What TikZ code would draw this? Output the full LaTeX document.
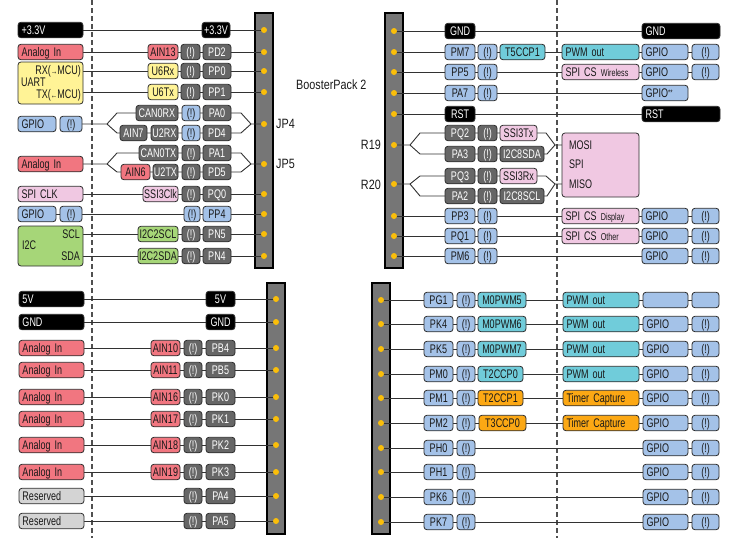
\documentclass[tikz,border=0pt]{standalone}
\usepackage{fontspec}
\setmainfont{Liberation Sans}[FakeStretch=0.72]
\newfontfamily\labfont{Liberation Sans}[FakeStretch=0.8]
\usetikzlibrary{backgrounds}
\definecolor{cEdge}{RGB}{45,45,45}
\definecolor{cTxt}{RGB}{25,25,25}
\definecolor{cDrk}{RGB}{102,102,102}
\definecolor{cBlu}{RGB}{164,194,232}
\definecolor{cAna}{RGB}{241,118,128}
\definecolor{cSpi}{RGB}{240,200,226}
\definecolor{cYel}{RGB}{255,243,150}
\definecolor{cGrn}{RGB}{166,214,120}
\definecolor{cCyn}{RGB}{112,204,218}
\definecolor{cOrg}{RGB}{252,168,20}
\definecolor{cLgr}{RGB}{212,212,212}
\definecolor{cHdr}{RGB}{118,118,118}
\definecolor{cDot}{RGB}{250,190,10}
\definecolor{cLine}{RGB}{50,50,50}
\definecolor{cDash}{RGB}{80,80,80}
\tikzset{
  pbox/.style={draw=cEdge, line width=0.8pt, rounded corners=3pt, minimum height=15.5pt,
    inner sep=0pt, text height=8.8pt, text depth=0pt, text=cTxt, font=\fontsize{12.5}{13}\selectfont},
  blk/.style={pbox, fill=black, text=white},
  drk/.style={pbox, fill=cDrk, text=white},
  blu/.style={pbox, fill=cBlu},
  ana/.style={pbox, fill=cAna},
  spi/.style={pbox, fill=cSpi},
  yel/.style={pbox, fill=cYel},
  grn/.style={pbox, fill=cGrn},
  cyn/.style={pbox, fill=cCyn},
  org/.style={pbox, fill=cOrg},
  lgr/.style={pbox, fill=cLgr},
  txt/.style={inner sep=0pt, text height=8.8pt, text depth=0pt, text=cTxt, font=\fontsize{12.5}{13}\selectfont},
  lab/.style={inner sep=0pt, text height=9.7pt, text depth=0pt, text=cTxt, font=\labfont\fontsize{13.5}{15}\selectfont},
  conn/.style={draw=cLine, line width=0.9pt},
  pindot/.style={circle, fill=cDot, minimum size=6pt, inner sep=0pt},
  hdr/.style={fill=cHdr, draw=black, line width=2pt, inner sep=0pt},
  sep/.style={draw=cDash, line width=1.4pt, dash pattern=on 5pt off 3pt},
}
\newcommand\bxc[6]{\pgfmathsetmacro\myBW{(#4)-(#3)}\pgfmathsetmacro\myCX{((#3)+(#4))/2}%
  \node[#2, minimum width=\myBW pt] (#1) at (\myCX,#5) {#6};}
\newcommand\bxl[6]{\pgfmathsetmacro\myBW{(#4)-(#3)}\pgfmathsetmacro\myTW{(#4)-(#3)-7}\pgfmathsetmacro\myCX{((#3)+(#4))/2}%
  \node[#2, minimum width=\myBW pt, text width=\myTW pt, align=left, inner xsep=3.5pt] (#1) at (\myCX,#5) {#6};}
\newcommand\sm[1]{{\fontsize{10}{10}\selectfont #1}}
\begin{document}
\begin{tikzpicture}[x=1pt,y=-1pt]
\useasboundingbox (0,0) rectangle (729,538);
% separators and headers
\coordinate (dA1) at (92,0); \coordinate (dA2) at (92,538);
\coordinate (dB1) at (557,0); \coordinate (dB2) at (557,538);
\begin{pgfonlayer}{background}
\draw[sep] (dA1) -- (dA2);
\draw[sep] (dB1) -- (dB2);
\node[hdr, minimum width=18pt, minimum height=255pt] (hTL) at (264,140.5) {};
\node[hdr, minimum width=18pt, minimum height=255pt] (hTR) at (394,140.5) {};
\node[hdr, minimum width=18pt, minimum height=251pt] (hBL) at (276,408.5) {};
\node[hdr, minimum width=18pt, minimum height=251pt] (hBR) at (381,408.5) {};
\end{pgfonlayer}
% pins
\foreach \yy [count=\k] in {30,52,71,92,124,164,194,214,234,256} \node[pindot] (tlp\k) at (264,\yy) {};
\foreach \yy [count=\k] in {31,52,72,93,114,145,184,216,236,256} \node[pindot] (trp\k) at (394,\yy) {};
\foreach \yy [count=\k] in {299,322,348,370,397,419,445,472,496,521} \node[pindot] (blp\k) at (276,\yy) {};
\foreach \yy [count=\k] in {300,324,349,374,398,423,448,472,497,522} \node[pindot] (brp\k) at (381,\yy) {};
% labels
\node[lab, anchor=west] (jp4) at (276,124) {JP4};
\node[lab, anchor=west] (jp5) at (276,164) {JP5};
\node[lab, anchor=west] (bp2) at (296,85) {BoosterPack 2};
\node[lab, anchor=east] (r19) at (381,145) {R19};
\node[lab, anchor=east] (r20) at (381,185) {R20};
% ---------------- top left
\bxl{tlL1}{blk}{18}{83}{30}{+3.3V}
\bxc{tlR1}{blk}{202}{230}{30}{+3.3V}
\bxl{tlL2}{ana}{18}{83}{52}{Analog In}
\bxc{tlA2}{ana}{148}{178}{52}{AIN13}
\bxc{tlX2}{drk}{181}{200}{52}{(!)}
\bxc{tlP2}{drk}{203}{231}{52}{PD2}
\node[yel, minimum width=65pt, minimum height=42pt] (uart) at (50.5,83) {};
\node[txt, anchor=east] (uRX) at (81,70) {RX({\fontsize{9}{9}\selectfont →}MCU)};
\node[txt, anchor=west] (uNm) at (21,82) {UART};
\node[txt, anchor=east] (uTX) at (81,94) {TX({\fontsize{9}{9}\selectfont ←}MCU)};
\bxc{tlA3}{yel}{148}{178}{71}{U6Rx}
\bxc{tlX3}{drk}{181}{200}{71}{(!)}
\bxc{tlP3}{drk}{203}{231}{71}{PP0}
\bxc{tlA4}{yel}{148}{178}{92}{U6Tx}
\bxc{tlX4}{drk}{181}{200}{92}{(!)}
\bxc{tlP4}{drk}{203}{231}{92}{PP1}
\bxl{tlL5}{blu}{18}{56}{124}{GPIO}
\bxc{tlM5}{blu}{60}{82}{124}{(!)}
\bxc{tlA5a}{drk}{136}{178}{113}{CAN0RX}
\bxc{tlX5a}{blu}{182}{200}{113}{(!)}
\bxc{tlP5a}{drk}{203}{231}{113}{PA0}
\bxc{tlB5b}{drk}{120}{147}{133}{AIN7}
\bxc{tlA5b}{drk}{151}{178}{133}{U2RX}
\bxc{tlX5b}{blu}{182}{200}{133}{(!)}
\bxc{tlP5b}{drk}{203}{231}{133}{PD4}
\bxl{tlL6}{ana}{18}{83}{164}{Analog In}
\bxc{tlA6a}{drk}{139}{178}{153}{CAN0TX}
\bxc{tlX6a}{drk}{182}{200}{153}{(!)}
\bxc{tlP6a}{drk}{203}{231}{153}{PA1}
\bxc{tlB6b}{ana}{121}{150}{172}{AIN6}
\bxc{tlA6b}{drk}{153}{178}{172}{U2TX}
\bxc{tlX6b}{drk}{182}{200}{172}{(!)}
\bxc{tlP6b}{drk}{203}{231}{172}{PD5}
\bxl{tlL7}{spi}{18}{83}{194}{SPI CLK}
\bxc{tlA7}{spi}{143}{178}{194}{SSI3Clk}
\bxc{tlX7}{drk}{182}{200}{194}{(!)}
\bxc{tlP7}{drk}{203}{231}{194}{PQ0}
\bxl{tlL8}{blu}{18}{56}{214}{GPIO}
\bxc{tlM8}{blu}{60}{82}{214}{(!)}
\bxc{tlX8}{blu}{184}{200}{214}{(!)}
\bxc{tlP8}{blu}{203}{231}{214}{PP4}
\node[grn, minimum width=65pt, minimum height=40pt] (i2c) at (50.5,246) {};
\node[txt, anchor=east] (iSCL) at (80,234) {SCL};
\node[txt, anchor=west] (iNm) at (22,245) {I2C};
\node[txt, anchor=east] (iSDA) at (80,256) {SDA};
\bxc{tlA9}{grn}{138}{178}{234}{I2C2SCL}
\bxc{tlX9}{drk}{182}{200}{234}{(!)}
\bxc{tlP9}{drk}{203}{231}{234}{PN5}
\bxc{tlA10}{grn}{138}{178}{256}{I2C2SDA}
\bxc{tlX10}{drk}{182}{200}{256}{(!)}
\bxc{tlP10}{drk}{203}{231}{256}{PN4}
% ---------------- top right
\bxc{trP1}{blk}{445}{475}{31}{GND}
\bxl{trR1}{blk}{642}{720}{31}{GND}
\bxc{trP2}{blu}{445}{475}{52}{PM7}
\bxc{trX2}{blu}{478}{497}{52}{(!)}
\bxc{trA2}{cyn}{500}{545}{52}{T5CCP1}
\bxl{trF2}{cyn}{562}{639}{52}{PWM out}
\bxl{trG2}{blu}{642}{688}{52}{GPIO}
\bxc{trY2}{blu}{692}{719}{52}{(!)}
\bxc{trP3}{blu}{445}{475}{72}{PP5}
\bxc{trX3}{blu}{478}{497}{72}{(!)}
\bxl{trF3}{spi}{562}{639}{72}{SPI CS \sm{Wireless}}
\bxl{trG3}{blu}{642}{688}{72}{GPIO}
\bxc{trY3}{blu}{692}{719}{72}{(!)}
\bxc{trP4}{blu}{445}{475}{93}{PA7}
\bxc{trX4}{blu}{478}{497}{93}{(!)}
\bxl{trG4}{blu}{642}{688}{93}{GPIO\raisebox{2pt}{\fontsize{8}{8}\selectfont **}}
\bxc{trP5}{blk}{445}{475}{114}{RST}
\bxl{trR5}{blk}{642}{720}{114}{RST}
\bxc{trP6a}{drk}{445}{475}{133}{PQ2}
\bxc{trX6a}{drk}{478}{497}{133}{(!)}
\bxc{trA6a}{spi}{500}{537}{133}{SSI3Tx}
\bxc{trP6b}{drk}{445}{475}{154}{PA3}
\bxc{trX6b}{drk}{478}{497}{154}{(!)}
\bxc{trA6b}{drk}{500}{544}{154}{I2C8SDA}
\bxc{trP7a}{drk}{445}{475}{176}{PQ3}
\bxc{trX7a}{drk}{478}{497}{176}{(!)}
\bxc{trA7a}{spi}{500}{537}{176}{SSI3Rx}
\bxc{trP7b}{drk}{445}{475}{196}{PA2}
\bxc{trX7b}{drk}{478}{497}{196}{(!)}
\bxc{trA7b}{drk}{500}{544}{196}{I2C8SCL}
\node[spi, minimum width=77pt, minimum height=64pt] (spibox) at (600.5,165) {};
\node[txt, anchor=west] (sMOSI) at (569,145) {MOSI};
\node[txt, anchor=west] (sSPI) at (569,164) {SPI};
\node[txt, anchor=west] (sMISO) at (569,184) {MISO};
\bxc{trP8}{blu}{445}{475}{216}{PP3}
\bxc{trX8}{blu}{478}{497}{216}{(!)}
\bxl{trF8}{spi}{562}{639}{216}{SPI CS \sm{Display}}
\bxl{trG8}{blu}{642}{688}{216}{GPIO}
\bxc{trY8}{blu}{692}{719}{216}{(!)}
\bxc{trP9}{blu}{445}{475}{236}{PQ1}
\bxc{trX9}{blu}{478}{497}{236}{(!)}
\bxl{trF9}{spi}{562}{639}{236}{SPI CS \sm{Other}}
\bxl{trG9}{blu}{642}{688}{236}{GPIO}
\bxc{trY9}{blu}{692}{719}{236}{(!)}
\bxc{trP10}{blu}{445}{475}{256}{PM6}
\bxc{trX10}{blu}{478}{497}{256}{(!)}
\bxl{trG10}{blu}{642}{688}{256}{GPIO}
\bxc{trY10}{blu}{692}{719}{256}{(!)}
% ---------------- bottom left
\bxl{blL1}{blk}{19}{84}{299}{5V}
\bxc{blR1}{blk}{206}{235}{299}{5V}
\bxl{blL2}{blk}{19}{84}{322}{GND}
\bxc{blR2}{blk}{206}{235}{322}{GND}
\foreach \yy/\ai/\pp [count=\k from 3] in {348/10/PB4,370/11/PB5,397/16/PK0,419/17/PK1,445/18/PK2,472/19/PK3}{
  \bxl{blL\k}{ana}{19}{84}{\yy}{Analog In}
  \bxc{blA\k}{ana}{151}{180}{\yy}{AIN\ai}
  \bxc{blX\k}{drk}{184}{202}{\yy}{(!)}
  \bxc{blP\k}{drk}{206}{235}{\yy}{\pp}
}
\foreach \yy/\pp [count=\k from 9] in {496/PA4,521/PA5}{
  \bxl{blL\k}{lgr}{19}{84}{\yy}{Reserved}
  \bxc{blX\k}{drk}{184}{202}{\yy}{(!)}
  \bxc{blP\k}{drk}{206}{235}{\yy}{\pp}
}
% ---------------- bottom right
\foreach \yy/\pp [count=\k] in {300/PG1,324/PK4,349/PK5,374/PM0,398/PM1,423/PM2,448/PH0,472/PH1,497/PK6,522/PK7}{
  \bxc{brP\k}{blu}{424}{453}{\yy}{\pp}
  \bxc{brX\k}{blu}{457}{475}{\yy}{(!)}
}
\bxc{brA1}{cyn}{478}{526}{300}{M0PWM5}
\bxc{brA2}{cyn}{478}{526}{324}{M0PWM6}
\bxc{brA3}{cyn}{478}{526}{349}{M0PWM7}
\bxc{brA4}{cyn}{478}{523}{374}{T2CCP0}
\bxc{brA5}{org}{478}{523}{398}{T2CCP1}
\bxc{brA6}{org}{479}{526}{423}{T3CCP0}
\foreach \yy [count=\k] in {300,324,349,374}{\bxl{brF\k}{cyn}{563}{639}{\yy}{PWM out}}
\foreach \yy [count=\k from 5] in {398,423}{\bxl{brF\k}{org}{563}{639}{\yy}{Timer Capture}}
\bxc{brG1}{blu}{643}{688}{300}{}
\bxc{brY1}{blu}{692}{719}{300}{}
\foreach \yy [count=\k from 2] in {324,349,374,398,423,448,472,497,522}{
  \bxl{brG\k}{blu}{643}{688}{\yy}{GPIO}
  \bxc{brY\k}{blu}{692}{719}{\yy}{(!)}
}
% ---------------- connectors (behind boxes)
\begin{pgfonlayer}{background}
\draw[conn] (tlp1.center) -- (tlL1.center);
\draw[conn] (tlp2.center) -- (tlL2.center);
\draw[conn] (tlp3.center) -- (tlp3.center -| uart.center);
\draw[conn] (tlp4.center) -- (tlp4.center -| uart.center);
\draw[conn] (tlp5.center) -- (251,124) -- (241,113) -- (117,113) -- (107,124) -- (tlM5.center);
\draw[conn] (251,124) -- (241,133) -- (117,133) -- (107,124);
\draw[conn] (tlp6.center) -- (251,164) -- (241,153) -- (117,153) -- (107,164) -- (tlL6.center);
\draw[conn] (251,164) -- (241,172) -- (117,172) -- (107,164);
\draw[conn] (tlp7.center) -- (tlL7.center);
\draw[conn] (tlp8.center) -- (tlL8.center);
\draw[conn] (tlp9.center) -- (tlp9.center -| i2c.center);
\draw[conn] (tlp10.center) -- (tlp10.center -| i2c.center);
\draw[conn] (trp1.center) -- (trR1.center);
\draw[conn] (trp2.center) -- (trY2.center);
\draw[conn] (trp3.center) -- (trY3.center);
\draw[conn] (trp4.center) -- (trG4.center);
\draw[conn] (trp5.center) -- (trR5.center);
\draw[conn] (trp6.center) -- (410,145) -- (420,133) -- (546,133) -- (555,145) -- (sMOSI.west);
\draw[conn] (410,145) -- (420,154) -- (547,154) -- (555,145);
\draw[conn] (trp7.center) -- (410,184) -- (420,176) -- (546,176) -- (555,184) -- (sMISO.west);
\draw[conn] (410,184) -- (420,196) -- (547,196) -- (555,184);
\draw[conn] (trp8.center) -- (trY8.center);
\draw[conn] (trp9.center) -- (trY9.center);
\draw[conn] (trp10.center) -- (trY10.center);
\foreach \k in {1,...,10}{
  \draw[conn] (blp\k.center) -- (blL\k.center);
  \draw[conn] (brp\k.center) -- (brY\k.center);
}
\end{pgfonlayer}
\end{tikzpicture}
\end{document}
